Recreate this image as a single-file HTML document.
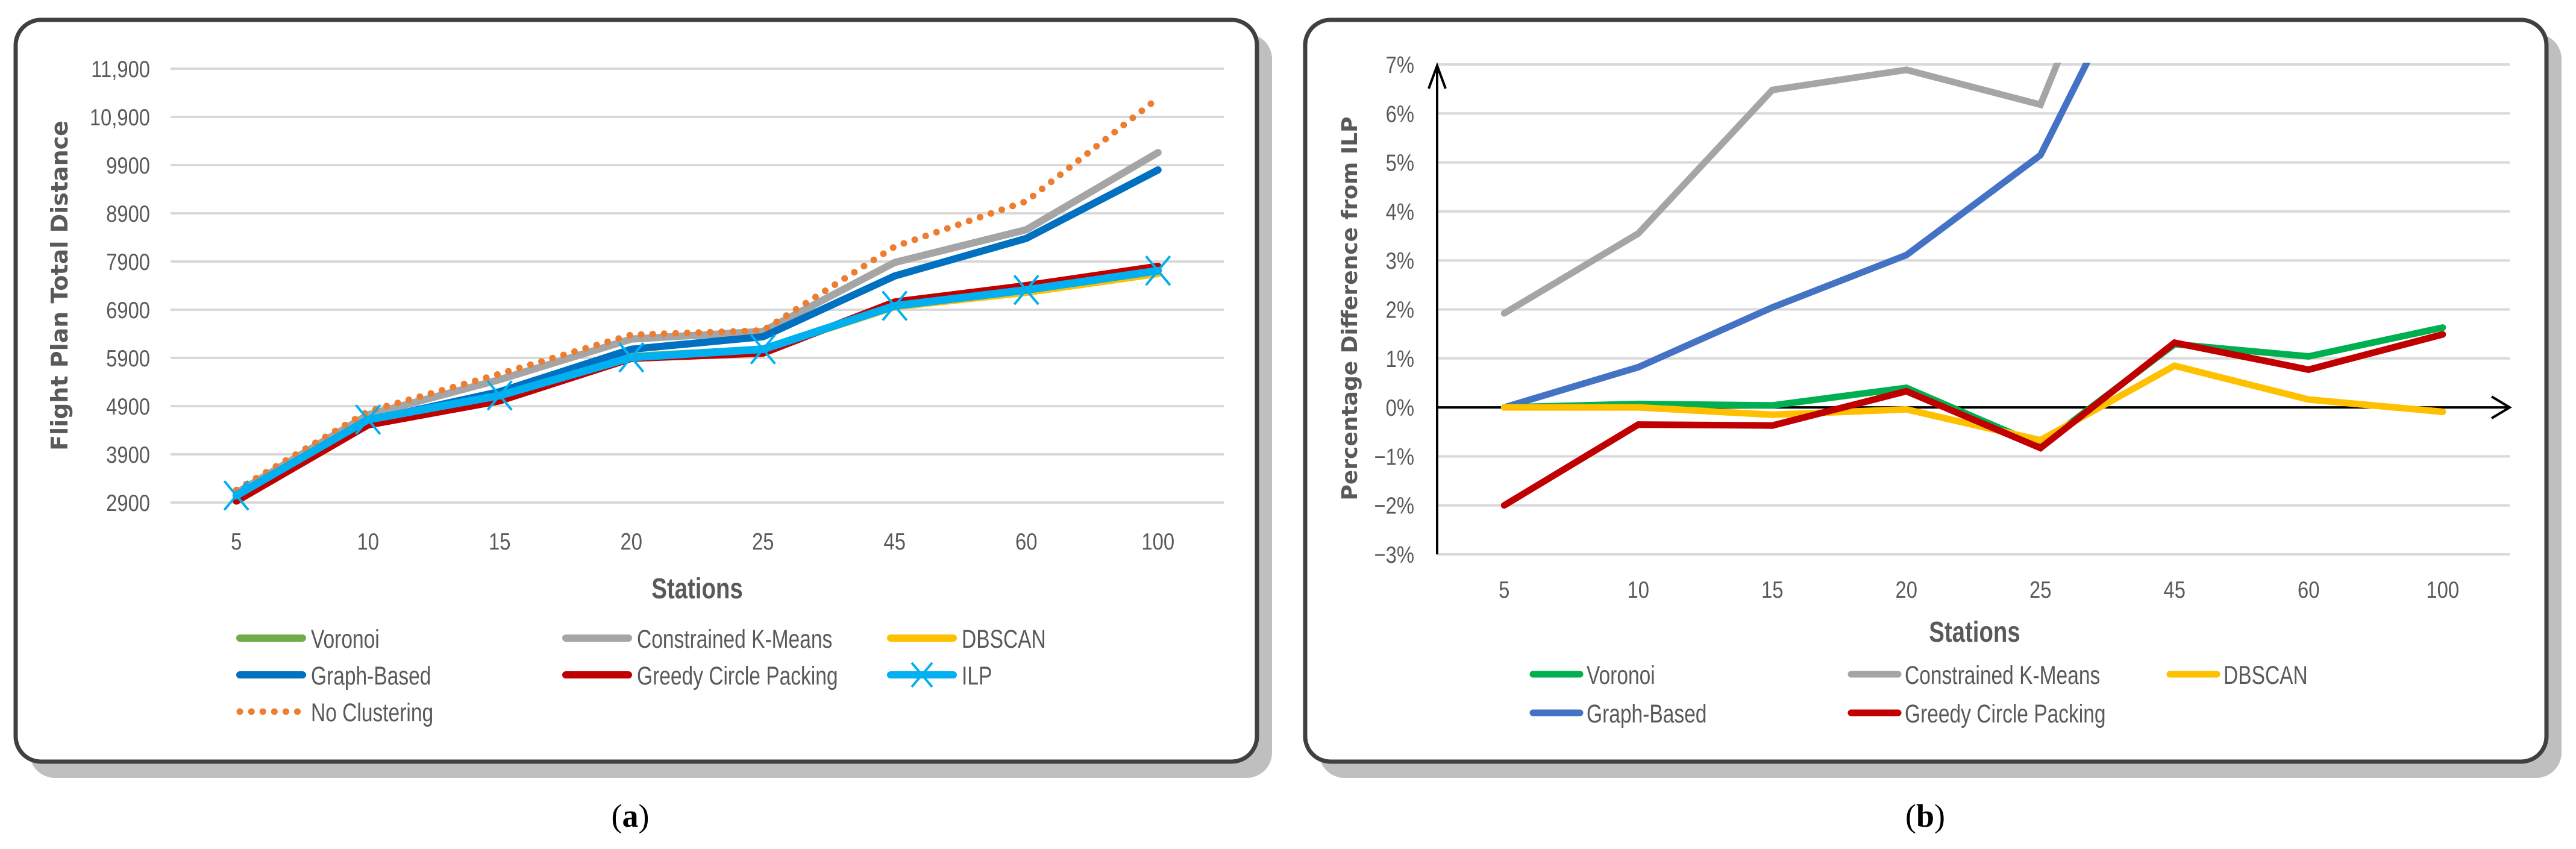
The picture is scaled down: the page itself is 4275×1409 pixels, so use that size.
<!DOCTYPE html>
<html><head><meta charset="utf-8">
<style>
html,body{margin:0;padding:0;background:#fff;}
body{width:4275px;height:1409px;position:relative;overflow:hidden;}
svg{position:absolute;left:0;top:0;}
.tick{font-family:"Liberation Sans Narrow","Liberation Sans",sans-serif;font-size:39px;fill:#595959;}
.leg{font-family:"Liberation Sans Narrow","Liberation Sans",sans-serif;font-size:43px;fill:#595959;}
.axt{font-family:"Liberation Sans Narrow","Liberation Sans",sans-serif;font-size:48px;font-weight:bold;fill:#595959;}
.yt{font-family:"DejaVu Sans",sans-serif;font-weight:bold;fill:#595959;}
.cap{font-family:"Liberation Serif",serif;font-size:54px;fill:#000;}
</style></head>
<body>
<svg id="chart" width="4275" height="1409" viewBox="0 0 4275 1409">
  <rect x="49" y="56" width="2062" height="1235" rx="42" fill="#bfbfbf"/>
  <rect x="26" y="33" width="2060" height="1231" rx="42" fill="#fff" stroke="#404040" stroke-width="7"/>
  <rect x="2189" y="56" width="2062" height="1235" rx="42" fill="#bfbfbf"/>
  <rect x="2166" y="33" width="2060" height="1231" rx="42" fill="#fff" stroke="#404040" stroke-width="7"/>
  <g id="pa"></g>
  <g id="pb"></g>
  <text x="1046" y="1372" text-anchor="middle" class="cap">(<tspan font-weight="bold">a</tspan>)</text>
  <text x="3195" y="1372" text-anchor="middle" class="cap">(<tspan font-weight="bold">b</tspan>)</text>
  <defs>
    <clipPath id="clipB"><rect x="2385" y="104" width="1790" height="830"/></clipPath>
  </defs>
</svg>
<script>
// ---------- Panel A data ----------
const categoriesA = ["5","10","15","20","25","45","60","100"];
const yTicksA = [2900,3900,4900,5900,6900,7900,8900,9900,10900,11900];
const yTickLabelsA = ["2900","3900","4900","5900","6900","7900","8900","9900","10,900","11,900"];
const voronoiA = [3040,4600,5110,5930,6080,6990,7300,7720];
const ckmA = [3100,4720,5450,6290,6450,7880,8560,10160];
const dbscanA = [3040,4590,5100,5920,6070,6960,7260,7650];
const graphA = [3050,4600,5200,6080,6340,7600,8380,9800];
const greedyA = [2930,4510,5010,5890,6000,7060,7400,7800];
const ilpA = [3046,4620,5120,5910,6080,6980,7310,7710];
const noClusterA = [3160,4790,5570,6380,6470,8210,9150,11290];

// ---------- Panel B data ----------
const categoriesB = ["5","10","15","20","25","45","60","100"];
const yTicksB = [-3,-2,-1,0,1,2,3,4,5,6,7];
const voronoiB = [0,0.07,0.04,0.40,-0.78,1.29,1.04,1.63];
const ckmB = [1.92,3.55,6.48,6.89,6.18,12.9,14,17];
const dbscanB = [0,0,-0.15,-0.04,-0.67,0.85,0.16,-0.09];
const graphB = [0,0.82,2.04,3.11,5.15,10.6,11.5,14];
const greedyB = [-2.0,-0.35,-0.37,0.33,-0.83,1.32,0.77,1.49];

const NS="http://www.w3.org/2000/svg";
function mk(parent,tag,attrs){const e=document.createElementNS(NS,tag);for(const k in attrs)e.setAttribute(k,attrs[k]);parent.appendChild(e);return e;}
function ntext(parent,x,y,anchor,cls,str,sx){
  const t=mk(parent,'text',{x:0,y:0,'text-anchor':anchor,class:cls,transform:`translate(${x},${y}) scale(${sx},1)`});
  t.textContent=str;return t;
}
const TSX=0.84, LSX=0.78, ASX=0.8;

// ---------- Panel A ----------
(function(){
  const g=document.getElementById('pa');
  const x0=283,x1=2031,yTop=114,yBot=834,vMin=2900,vMax=11900;
  const bw=(x1-x0)/categoriesA.length;
  const xA=i=>x0+bw*(i+0.5);
  const yA=v=>yBot-(v-vMin)/(vMax-vMin)*(yBot-yTop);
  yTicksA.forEach((t,i)=>{
    const l=mk(g,'line',{x1:x0,x2:x1,y1:yA(t),y2:yA(t),stroke:'#d9d9d9','stroke-width':4});
    
    
    const tx=ntext(g,249,yA(t)+14,'end','tick',yTickLabelsA[i],TSX);
    
    
  });
  categoriesA.forEach((c,i)=>{
    const tx=ntext(g,xA(i),912,'middle','tick',c,TSX);
    
    
  });
  const series=[
    [voronoiA,'#70AD47',12,null,'voronoi-line-a'],
    [ckmA,'#A5A5A5',12,null,'constrained-kmeans-line-a'],
    [dbscanA,'#FFC000',12,null,'dbscan-line-a'],
    [noClusterA,'#ED7D31',11,'0.1 19','no-clustering-line-a'],
    [graphA,'#0070C0',12,null,'graph-based-line-a'],
    [greedyA,'#C00000',12,null,'greedy-circle-packing-line-a'],
    [ilpA,'#00B0F0',13,null,'ilp-line-a']
  ];
  series.forEach(s=>{
    const pts=s[0].map((v,i)=>xA(i).toFixed(1)+','+yA(v).toFixed(1)).join(' ');
    const a={points:pts,fill:'none',stroke:s[1],'stroke-width':s[2],'stroke-linejoin':'round','stroke-linecap':'round'};
    if(s[3])a['stroke-dasharray']=s[3];
    const p=mk(g,'polyline',a);
    
    
  });
  ilpA.forEach((v,i)=>{
    const cx=xA(i),cy=yA(v);
    const m=mk(g,'path',{d:`M${cx-20},${cy-24}L${cx+20},${cy+24}M${cx+20},${cy-24}L${cx-20},${cy+24}`,stroke:'#00B0F0','stroke-width':4,fill:'none'});
    
    
  });
  const at=ntext(g,1157,993,'middle','axt','Stations',ASX);
  
  
  const yt=mk(g,'text',{x:0,y:0,'text-anchor':'middle',class:'yt','font-size':38,transform:'translate(112,474) rotate(-90)'});yt.textContent='Flight Plan Total Distance';
  
  
  const leg=[
    ['Voronoi','#70AD47',392,1059,null],['Constrained K-Means','#A5A5A5',933,1059,null],['DBSCAN','#FFC000',1472,1059,null],
    ['Graph-Based','#0070C0',392,1120,null],['Greedy Circle Packing','#C00000',933,1120,null],['ILP','#00B0F0',1472,1120,'x'],
    ['No Clustering','#ED7D31',392,1181,'dot']
  ];
  leg.forEach(L=>{
    const a={x1:L[2]+6,x2:L[2]+110,y1:L[3],y2:L[3],stroke:L[1],'stroke-width':12,'stroke-linecap':'round'};
    if(L[4]==='dot'){a['stroke-width']=11;a['stroke-dasharray']='0.1 19';}
    const l=mk(g,'line',a);
    
    
    if(L[4]==='x'){const cx=L[2]+58,cy=L[3];const m=mk(g,'path',{d:`M${cx-17},${cy-20}L${cx+17},${cy+20}M${cx+17},${cy-20}L${cx-17},${cy+20}`,stroke:'#00B0F0','stroke-width':4});
      
      }
    const t=ntext(g,L[2]+124,L[3]+16,'start','leg',L[0],LSX);
    
    
  });
})();

// ---------- Panel B ----------
(function(){
  const g=document.getElementById('pb');
  const x0=2385,x1=4165,yTop=107,yBot=920,vMin=-3,vMax=7;
  const bw=(x1-x0)/categoriesB.length;
  const xB=i=>x0+bw*(i+0.5);
  const yB=v=>yBot-(v-vMin)/(vMax-vMin)*(yBot-yTop);
  yTicksB.forEach(t=>{
    const l=mk(g,'line',{x1:x0,x2:x1,y1:yB(t),y2:yB(t),stroke:'#d9d9d9','stroke-width':4});
    
    
    const tx=ntext(g,2347,yB(t)+14,'end','tick',(t<0?'\u2212':'')+Math.abs(t)+'%',TSX);
    
    
  });
  categoriesB.forEach((c,i)=>{
    const tx=ntext(g,xB(i),992,'middle','tick',c,TSX);
    
    
  });
  const ax=mk(g,'path',{d:`M${x0},${yBot}L${x0},${yTop+2}M${x0-14},${yTop+40}L${x0},${yTop+2}L${x0+14},${yTop+40}`,stroke:'#000','stroke-width':4,fill:'none'});
  
  
  const y0=yB(0);
  const ax2=mk(g,'path',{d:`M${x0},${y0}L${x1},${y0}M${x1-30},${y0-18}L${x1},${y0}L${x1-30},${y0+18}`,stroke:'#000','stroke-width':4,fill:'none'});
  
  
  const lg=mk(g,'g',{'clip-path':'url(#clipB)'});
  const series=[
    [ckmB,'#A5A5A5','constrained-kmeans-line-b'],
    [graphB,'#4472C4','graph-based-line-b'],
    [voronoiB,'#00B050','voronoi-line-b'],
    [dbscanB,'#FFC000','dbscan-line-b'],
    [greedyB,'#C00000','greedy-circle-packing-line-b']
  ];
  series.forEach(s=>{
    const pts=s[0].map((v,i)=>xB(i).toFixed(1)+','+yB(v).toFixed(1)).join(' ');
    const p=mk(lg,'polyline',{points:pts,fill:'none',stroke:s[1],'stroke-width':11,'stroke-linejoin':'miter','stroke-linecap':'round'});
    
    
  });
  const at=ntext(g,3277,1065,'middle','axt','Stations',ASX);
  
  
  const yt=mk(g,'text',{x:0,y:0,'text-anchor':'middle',class:'yt','font-size':36,transform:'translate(2252,512) rotate(-90)'});yt.textContent='Percentage Difference from ILP';
  
  
  const leg=[
    ['Voronoi','#00B050',2538,1119],['Constrained K-Means','#A5A5A5',3066,1119],['DBSCAN','#FFC000',3595,1119],
    ['Graph-Based','#4472C4',2538,1183],['Greedy Circle Packing','#C00000',3066,1183]
  ];
  leg.forEach(L=>{
    const l=mk(g,'line',{x1:L[2]+6,x2:L[2]+84,y1:L[3],y2:L[3],stroke:L[1],'stroke-width':11,'stroke-linecap':'round'});
    
    
    const t=ntext(g,L[2]+95,L[3]+16,'start','leg',L[0],LSX);
    
    
  });
})();
</script>
</body></html>
